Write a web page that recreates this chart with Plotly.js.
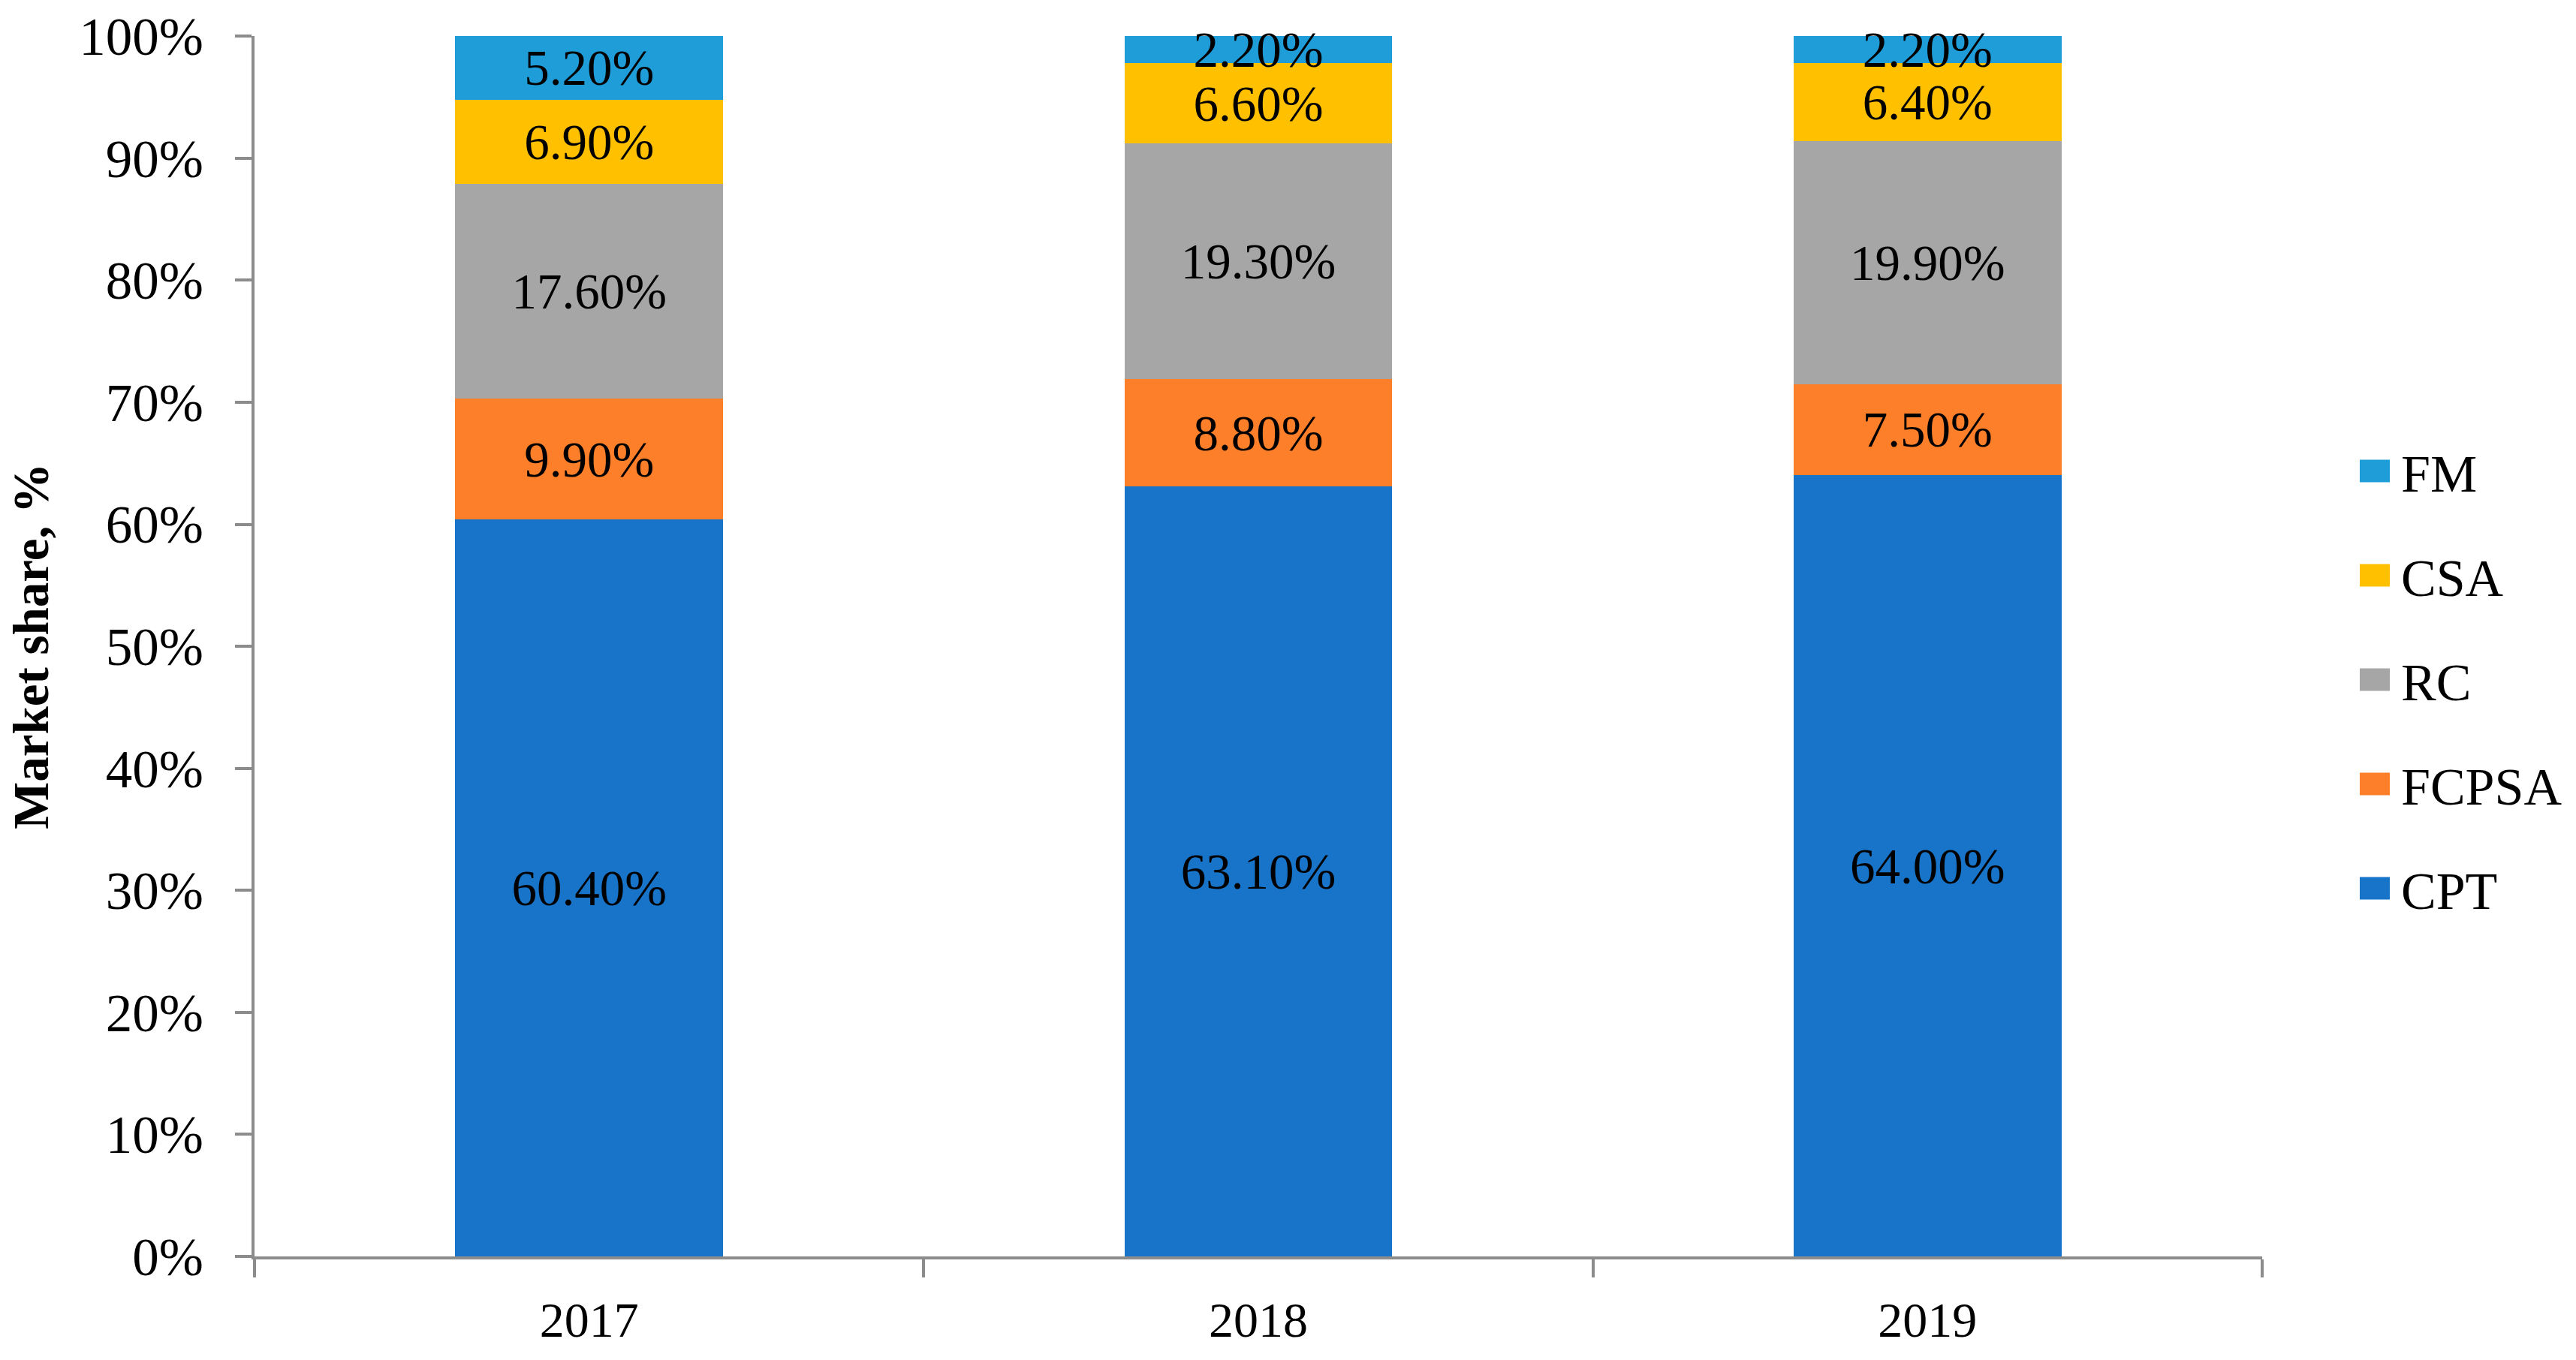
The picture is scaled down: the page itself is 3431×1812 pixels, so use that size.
<!DOCTYPE html>
<html>
<head>
<meta charset="utf-8">
<script src="https://cdn.plot.ly/plotly-3.0.1.min.js"></script>
<style>html,body{margin:0;padding:0;background:#fff;}#chart{width:3431px;height:1812px;}</style>
</head>
<body>
<div id="chart"></div>
<script>
const years = ['2017', '2018', '2019'];
const seriesNames = ['CPT', 'FCPSA', 'RC', 'CSA', 'FM'];
const CPT = [60.4, 63.1, 64.0];
const FCPSA = [9.9, 8.8, 7.5];
const RC = [17.6, 19.3, 19.9];
const CSA = [6.9, 6.6, 6.4];
const FM = [5.2, 2.2, 2.2];
const yTickVals = [0, 10, 20, 30, 40, 50, 60, 70, 80, 90, 100];
const yTickText = ['0%', '10%', '20%', '30%', '40%', '50%', '60%', '70%', '80%', '90%', '100%'];

const colors = {CPT: '#1874c8', FCPSA: '#fe7f2a', RC: '#a6a6a6', CSA: '#ffc000', FM: '#1e9dd8'};
const values = {CPT, FCPSA, RC, CSA, FM};
const FONT = 'Liberation Serif, Times New Roman, serif';

const traces = seriesNames.map((n, i) => ({
  type: 'bar',
  name: n,
  legendgroup: n,
  legendrank: seriesNames.length - i,
  x: years,
  y: values[n],
  marker: {color: colors[n], line: {width: 0}},
  text: values[n].map(v => v.toFixed(2) + '%'),
  texttemplate: '%{text}',
  textposition: 'inside',
  insidetextanchor: 'middle',
  constraintext: 'none',
  textangle: 0,
  cliponaxis: false,
  textfont: {family: FONT, size: 67, color: '#000'},
  hoverinfo: 'skip'
}));

const layout = {
  width: 3431, height: 1812,
  paper_bgcolor: '#fff', plot_bgcolor: '#fff',
  margin: {l: 339, r: 418, t: 48, b: 138, autoexpand: false},
  barmode: 'stack',
  bargap: 0.6,
  font: {family: FONT, size: 64, color: '#000'},
  xaxis: {
    type: 'category',
    showline: true, linecolor: '#8c8c8c', linewidth: 4,
    ticks: 'outside', tickson: 'boundaries', ticklen: 24, tickwidth: 4, tickcolor: '#8c8c8c',
    tickfont: {family: FONT, size: 66, color: '#000'},
    ticklabelstandoff: 24,
    showgrid: false, zeroline: false, automargin: false
  },
  yaxis: {
    range: [0, 100.01],
    tickvals: yTickVals, ticktext: yTickText,
    showline: true, linecolor: '#8c8c8c', linewidth: 4,
    ticks: 'outside', ticklen: 22, tickwidth: 4, tickcolor: '#8c8c8c',
    tickfont: {family: FONT, size: 71, color: '#000'},
    ticklabelstandoff: 28,
    showgrid: false, zeroline: false, automargin: false,
    title: {text: '<b>Market share, %</b>', font: {family: FONT, size: 67, color: '#000'}, standoff: 20}
  },
  legend: {
    x: 1.043, xanchor: 'left', y: 0.4727, yanchor: 'middle',
    traceorder: 'grouped', tracegroupgap: 45,
    itemwidth: 60,
    font: {family: FONT, size: 70, color: '#000'},
    bgcolor: 'rgba(0,0,0,0)'
  },
  showlegend: true
};

Plotly.newPlot('chart', traces, layout, {staticPlot: true, displayModeBar: false}).then(() => {
  document.querySelectorAll('.legend .legendpoints path').forEach(p => {
    p.setAttribute('d', 'M20,15H-20V-15H20Z');
  });
});
</script>
</body>
</html>
